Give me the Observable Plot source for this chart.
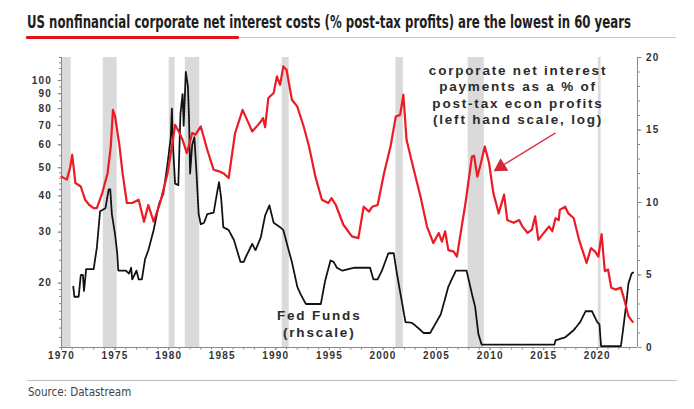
<!DOCTYPE html>
<html>
<head>
<meta charset="utf-8">
<script src="https://cdn.jsdelivr.net/npm/d3@7"></script>
<script src="https://cdn.jsdelivr.net/npm/@observablehq/plot@0.6"></script>
<style>
  html, body { margin: 0; padding: 0; background: #fff; }
  #wrap { position: relative; width: 694px; height: 409px; overflow: hidden; background: #fff; }
  #title { position: absolute; left: 27px; top: 12px; white-space: nowrap;
    font-family: "Liberation Sans Narrow", "DejaVu Sans Condensed", "Roboto", sans-serif;
    font-weight: bold; font-size: 17px; color: #1e1e1e; transform-origin: 0 0; }
  #ul-red { position: absolute; left: 26px; top: 36px; width: 213px; height: 3px; background: #e3121b; border-radius: 1px; }
  #ul-thin { position: absolute; left: 26px; top: 37px; width: 650px; height: 1px; background: #f2b4b4; }
  #chart { position: absolute; left: 0; top: 45px; }
  #src-line { position: absolute; left: 27px; top: 380px; width: 650px; height: 1px; background: #bdbdbd; }
  #source { position: absolute; left: 28px; top: 385px; white-space: nowrap;
    font-family: "Liberation Sans Narrow", "DejaVu Sans Condensed", sans-serif; font-size: 11.5px; color: #444; }
</style>
</head>
<body>
<div id="wrap">
  <div id="title">US nonfinancial corporate net interest costs (% post-tax profits) are the lowest in 60 years</div>
  <div id="ul-thin"></div>
  <div id="ul-red"></div>
  <div id="chart"></div>
  <div id="src-line"></div>
  <div id="source">Source: Datastream</div>
</div>
<script>
// ---- Data ----
// Corporate net interest payments as % of post-tax economic profits (left, log)
const interestYears = [1970.0,1970.5,1970.8,1971.0,1971.3,1971.8,1972.2,1972.6,1973.0,1973.3,1973.8,1974.3,1974.6,1974.8,1975.0,1975.4,1975.7,1976.1,1976.6,1977.2,1977.7,1978.1,1978.6,1979.2,1979.9,1980.3,1980.6,1981.0,1981.3,1981.7,1982.2,1982.5,1983.0,1983.6,1984.2,1984.7,1985.1,1985.6,1986.2,1986.9,1987.4,1987.8,1988.3,1988.6,1988.8,1989.0,1989.3,1989.8,1990.1,1990.4,1990.7,1991.0,1991.5,1992.0,1992.6,1993.1,1993.7,1994.3,1994.9,1995.2,1995.6,1996.3,1997.1,1997.7,1998.2,1998.7,1999.0,1999.5,2000.1,2000.7,2001.2,2001.6,2001.9,2002.2,2002.8,2003.5,2004.1,2004.7,2005.2,2005.5,2005.8,2006.1,2006.6,2006.9,2007.2,2007.7,2008.0,2008.3,2008.5,2008.8,2009.1,2009.5,2009.9,2010.3,2010.8,2011.3,2011.6,2012.2,2012.7,2013.0,2013.5,2013.9,2014.2,2014.5,2015.0,2015.5,2015.8,2016.1,2016.4,2016.5,2017.0,2017.3,2017.8,2018.3,2018.7,2019.0,2019.4,2019.8,2020.1,2020.4,2020.7,2021.0,2021.3,2021.7,2022.2,2022.6,2022.9,2023.3];
const interestValues = [46.6,45.5,50,55.4,44.3,43.1,38.8,37.2,36.3,36.3,40.9,47.9,59.2,79.2,75.1,60,47.9,37.8,37.8,38.8,32.6,37.2,32.6,37.8,47.9,59.2,70.3,66,62.4,56.2,65.9,65.0,69.4,57.7,49.2,48.6,47.9,46.1,65.9,79.2,72,66.7,70,72.2,74.2,69,87.0,90.5,103.3,96.6,111.8,108.9,85.8,81.3,69.4,59.2,46.5,38.8,37.8,39.3,37.2,31.8,29.0,28.6,36.7,35.3,36.7,37.2,47.9,59.2,75.1,76.1,89.3,62.4,50.5,39.8,31.4,27.5,29.8,27.8,30.2,26.0,25.7,24.7,29.0,37.8,45.5,54.7,55,46.6,51.2,59.2,51.9,40.9,34.8,40.4,33.0,32.3,33.0,31.4,29.8,30.6,34.0,28.2,29.8,31.4,30.2,33.5,33,35.8,36.7,34.8,33.5,28.2,25.4,23.5,26.4,25.7,24.7,29.5,22.0,22.3,19.3,19.0,19.3,17.1,15.4,14.7];

// Fed Funds rate (right scale, %)
const fedYears = [1971.1,1971.2,1971.6,1971.8,1972.0,1972.1,1972.3,1973.0,1973.3,1973.6,1974.1,1974.4,1974.55,1974.7,1975.0,1975.2,1975.3,1976.0,1976.3,1976.5,1976.6,1977.0,1977.2,1977.5,1977.8,1978.1,1978.6,1979.1,1979.5,1979.9,1980.2,1980.3,1980.4,1980.6,1980.9,1981.1,1981.3,1981.4,1981.6,1981.8,1981.9,1982.0,1982.2,1982.4,1982.6,1982.8,1983.0,1983.3,1983.6,1984.2,1984.5,1984.7,1984.9,1985.1,1985.6,1986.1,1986.7,1987.0,1987.3,1987.8,1988.1,1988.6,1989.0,1989.4,1989.8,1990.4,1990.7,1991.2,1991.5,1992.0,1992.3,1992.8,1994.2,1994.6,1995.1,1995.4,1995.7,1996.2,1997.3,1998.8,1999.1,1999.5,1999.9,2000.5,2001.0,2001.3,2001.8,2002.1,2002.7,2003.2,2003.8,2004.4,2005.4,2006.1,2006.8,2007.8,2008.3,2008.6,2008.9,2009.2,2016.0,2016.1,2017.0,2017.8,2018.4,2018.9,2019.5,2020.0,2020.2,2020.35,2022.2,2022.4,2022.7,2022.9,2023.2,2023.4];
const fedValues = [4.2,3.5,3.5,5.0,5.0,3.9,5.4,5.4,6.9,9.4,9.6,10.9,10.9,9.2,7.8,6.5,5.3,5.3,5.1,5.5,4.7,5.3,4.7,4.7,6.1,6.7,8.1,9.9,10.6,12.7,14.5,16.5,14.0,11.3,11.2,16.1,17.5,15.3,19.0,18.0,15.8,12.0,14.0,14.5,12.0,9.2,8.5,8.6,9.2,9.3,10.6,11.4,10.3,8.3,8.1,7.4,5.9,5.9,6.4,7.15,6.7,7.6,9.1,9.8,8.6,8.3,8.1,6.7,5.9,4.2,3.7,3.0,3.0,4.6,6.0,5.9,5.5,5.3,5.5,5.5,4.7,4.7,5.3,6.5,6.5,5.1,3.0,1.75,1.7,1.4,1.0,1.0,2.3,4.2,5.3,5.3,3.7,2.8,0.94,0.2,0.2,0.5,0.7,1.2,1.75,2.5,2.5,1.75,1.6,0.1,0.1,1.2,3.0,4.4,5.1,5.2];

// Recessions (shaded)
const recessionStart = [1970.0,1973.9,1980.05,1981.55,1990.6,2001.2,2007.95,2020.1];
const recessionEnd   = [1970.9,1975.2,1980.6,1982.9,1991.25,2001.9,2009.45,2020.35];

// Ticks
const xLabelTicks = [1970,1975,1980,1985,1990,1995,2000,2005,2010,2015,2020];
const leftTicks = [20,30,40,50,60,70,80,90,100];
const rightTicks = [0,5,10,15,20];

// Annotation texts
const noteText = "corporate net interest\npayments as a % of\npost-tax econ profits\n(left hand scale, log)";
const fedLabel = "Fed Funds\n(rhscale)";

// ---- Scales set-up ----
const xDomain = [1970, 2023.75];
const yDomain = [12, 120];          // left log axis
const rMax = 20;                     // right linear axis 0..20 over same height
// map a right-scale value onto the left log scale so both share one y scale
const toLeft = v => yDomain[0] * Math.pow(yDomain[1] / yDomain[0], v / rMax);
const fromLeft = d => rMax * Math.log(d / yDomain[0]) / Math.log(yDomain[1] / yDomain[0]);

const interest = interestYears.map((y, i) => ({year: y, value: interestValues[i]}));
const fed = fedYears.map((y, i) => ({year: y, value: toLeft(fedValues[i])}));
const recessions = recessionStart.map((s, i) => ({start: s, end: recessionEnd[i]}));

const minorX = d3.range(1970, 2024, 1);
const leftMinor = [...d3.range(12, 20, 1), ...d3.range(20, 50, 2), ...d3.range(50, 121, 5)];
const rightMinor = d3.range(0, 21, 1);

const axisColor = "#8a8a8a";
const textColor = "#333";
const noLabel = () => "";

const note = [{year: 2012.6, value: 89.5, text: noteText}];
const fedNote = [{year: 1994.05, value: 14.6, text: fedLabel}];
const arrow = [{x1: 2016.1, y1: 66.0, x2: 2011.15, y2: 50.9}];
const arrowHead = [{year: 2011.0, value: 50.4}];

const chart = Plot.plot({
  width: 694,
  height: 325,
  marginTop: 12,
  marginBottom: 23,
  marginLeft: 61,
  marginRight: 57,
  style: {fontFamily: "'Liberation Sans', Arial, sans-serif", fontSize: "10px", fontWeight: "bold", color: textColor, background: "transparent"},
  x: {domain: xDomain, label: null},
  y: {type: "log", domain: yDomain, label: null},
  marks: [
    Plot.rect(recessions, {x1: "start", x2: "end", fill: "#dadada"}),
    // axis lines
    Plot.ruleX([xDomain[0], xDomain[1]], {stroke: axisColor, strokeWidth: 1}),
    Plot.ruleY([yDomain[0]], {stroke: axisColor, strokeWidth: 1}),
    // x axis
    Plot.axisX({ticks: minorX, tickFormat: noLabel, tickSize: 2.5, stroke: axisColor}),
    Plot.axisX({ticks: xLabelTicks, tickFormat: d => String(d), tickSize: 3, tickPadding: 1.5, stroke: axisColor, fill: textColor}),
    // left axis (log)
    Plot.axisY({anchor: "left", ticks: leftMinor, tickFormat: noLabel, tickSize: 2, stroke: axisColor}),
    Plot.axisY({anchor: "left", ticks: leftTicks, tickFormat: d => String(d), tickSize: 3.5, tickPadding: 6, stroke: axisColor, fill: textColor}),
    // right axis (fed funds, linear 0..20)
    Plot.axisY({anchor: "right", ticks: rightMinor.map(toLeft), tickFormat: noLabel, tickSize: 2, stroke: axisColor}),
    Plot.axisY({anchor: "right", ticks: rightTicks.map(toLeft), tickFormat: d => String(Math.round(fromLeft(d))), tickSize: 3.5, tickPadding: 5, stroke: axisColor, fill: textColor}),
    // series
    Plot.line(fed, {x: "year", y: "value", stroke: "#111", strokeWidth: 1.8, strokeDasharray: "2.2,0.9"}),
    Plot.line(interest, {x: "year", y: "value", stroke: "#ec1b24", strokeWidth: 2.2, strokeLinejoin: "round"}),
    // annotations
    Plot.text(note, {x: "year", y: "value", text: "text", fontSize: 13.5, fontWeight: "bold", fill: "#2b2b2b", lineHeight: 1.22, textAnchor: "middle"}),
    Plot.text(fedNote, {x: "year", y: "value", text: "text", fontSize: 13.5, fontWeight: "bold", fill: "#2b2b2b", lineHeight: 1.25, textAnchor: "middle"}),
    Plot.link(arrow, {x1: "x1", y1: "y1", x2: "x2", y2: "y2", stroke: "#d23a48", strokeWidth: 1.4}),
    Plot.dot(arrowHead, {x: "year", y: "value", symbol: "triangle", r: 5.5, fill: "#d2283a", stroke: "none", rotate: 238})
  ]
});
document.getElementById("chart").appendChild(chart);

// letter spacing for the bold Arial-like texts
d3.select(chart).selectAll("g[aria-label='text'] text").style("letter-spacing", "1.8px");
d3.select(chart).selectAll("g[aria-label^='y-axis tick label'] text, g[aria-label^='x-axis tick label'] text").style("letter-spacing", "1.2px");

// fit title to reference width
const t = document.getElementById("title");
const w = t.getBoundingClientRect().width;
t.style.transform = `scaleX(${604 / w})`;
</script>
</body>
</html>
